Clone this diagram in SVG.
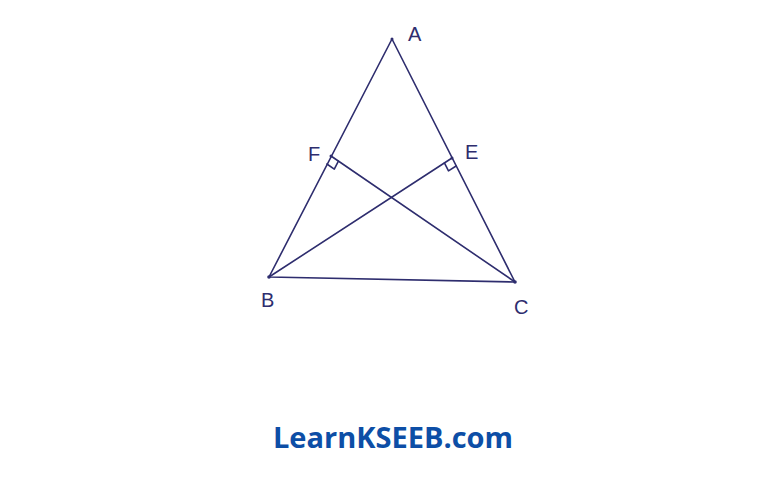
<svg xmlns="http://www.w3.org/2000/svg" width="768" height="485" viewBox="0 0 768 485">
<style>
.ln{stroke:#2e2d6e;stroke-width:1.6;fill:none;stroke-linecap:round;stroke-linejoin:round}
.lb{font-family:"Liberation Sans",Arial,sans-serif;font-size:20px;fill:#2e2d6e}
.wm{font-family:"Open Sans","Noto Sans",sans-serif;font-size:29px;font-weight:bold;fill:#0d4ea6}
</style>
<rect width="768" height="485" fill="#ffffff"/>
<g id="connectors">
<path class="ln" d="M392,39 L269,277 L515,282 Z"/>
<line class="ln" x1="269" y1="277" x2="452" y2="158"/>
<line class="ln" x1="515" y1="282" x2="331" y2="156"/>
<path class="ln" d="M326.9,164 L334.3,169.1 L338.4,161.1"/>
<path class="ln" d="M444.4,162.9 L448.5,170.9 L456.1,166"/>
</g>
<g id="A"><circle cx="392" cy="39" r="1.5" fill="#2e2d6e"/><text class="lb" x="408" y="41">A</text></g>
<g id="F"><circle cx="331" cy="156" r="1.5" fill="#2e2d6e"/><text class="lb" x="308" y="161">F</text></g>
<g id="E"><circle cx="452" cy="158" r="1.5" fill="#2e2d6e"/><text class="lb" x="465" y="159">E</text></g>
<g id="B"><circle cx="269" cy="277" r="1.8" fill="#2e2d6e"/><text class="lb" x="261" y="307">B</text></g>
<g id="C"><circle cx="515" cy="282" r="1.8" fill="#2e2d6e"/><text class="lb" x="514" y="314">C</text></g>
<text class="wm" x="393" y="448" text-anchor="middle">LearnKSEEB.com</text>
</svg>
